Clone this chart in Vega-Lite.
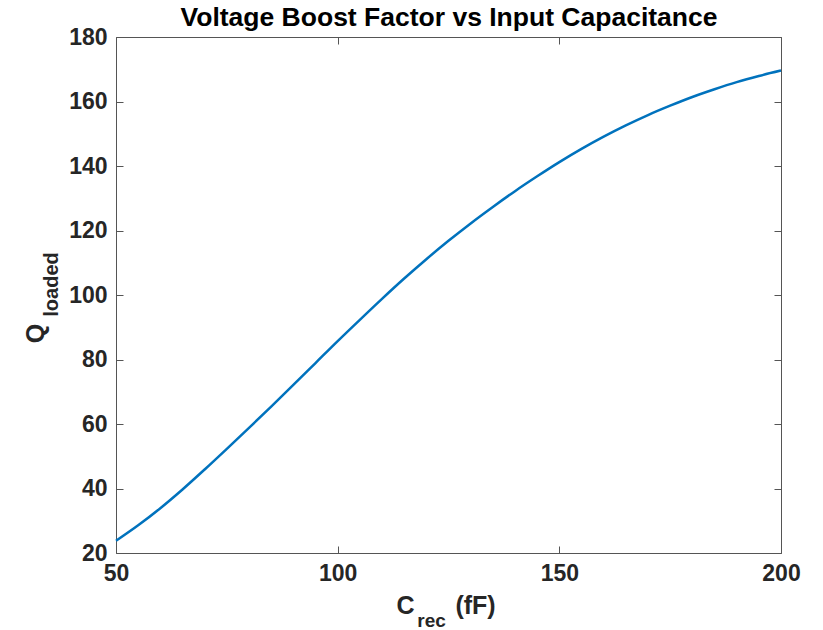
{
  "$schema": "https://vega.github.io/schema/vega-lite/v6.json",
  "width": 665,
  "height": 516,
  "autosize": {"type": "none"},
  "padding": {"left": 116, "top": 37, "right": 42, "bottom": 77},
  "background": "white",
  "config": {
    "view": {"stroke": "#555555", "strokeWidth": 1},
    "axis": {
      "labelFont": "Liberation Sans",
      "labelFontSize": 23,
      "labelFontWeight": "bold",
      "labelColor": "#262626",
      "labelFlush": false,
      "titleFont": "Liberation Sans",
      "titleFontWeight": "bold",
      "titleColor": "#262626",
      "grid": false,
      "domain": false,
      "tickColor": "#555555",
      "tickSize": -7,
      "tickWidth": 1,
      "labelPadding": 16
    }
  },
  "data": {
    "values": [
      {"c": 50, "q": 23.8},
      {"c": 55, "q": 28.6},
      {"c": 60, "q": 33.9},
      {"c": 65, "q": 39.7},
      {"c": 70, "q": 45.9},
      {"c": 75, "q": 52.3},
      {"c": 80, "q": 58.8},
      {"c": 85, "q": 65.4},
      {"c": 90, "q": 72.1},
      {"c": 95, "q": 78.9},
      {"c": 100, "q": 85.7},
      {"c": 105, "q": 92.3},
      {"c": 110, "q": 98.8},
      {"c": 115, "q": 105.1},
      {"c": 120, "q": 111.1},
      {"c": 125, "q": 116.8},
      {"c": 130, "q": 122.2},
      {"c": 135, "q": 127.3},
      {"c": 140, "q": 132.2},
      {"c": 145, "q": 136.8},
      {"c": 150, "q": 141.2},
      {"c": 155, "q": 145.3},
      {"c": 160, "q": 149.1},
      {"c": 165, "q": 152.6},
      {"c": 170, "q": 155.8},
      {"c": 175, "q": 158.7},
      {"c": 180, "q": 161.4},
      {"c": 185, "q": 163.8},
      {"c": 190, "q": 166.0},
      {"c": 195, "q": 167.9},
      {"c": 200, "q": 169.6}
    ]
  },
  "layer": [
    {
      "mark": {"type": "line", "color": "#0072BD", "strokeWidth": 2.5, "interpolate": "monotone"},
      "encoding": {
        "x": {
          "field": "c", "type": "quantitative",
          "scale": {"domain": [50, 200], "nice": false, "zero": false},
          "axis": {
            "orient": "bottom", "values": [50, 100, 150, 200],
            "title": "C", "titleFontSize": 25, "titleX": 289, "titleY": 60,
            "titleAlign": "center", "titleBaseline": "alphabetic"
          }
        },
        "y": {
          "field": "q", "type": "quantitative",
          "scale": {"domain": [20, 180], "nice": false, "zero": false},
          "axis": {
            "orient": "left", "values": [20, 40, 60, 80, 100, 120, 140, 160, 180],
            "title": "Q", "titleFontSize": 25, "titleAngle": -90, "titleX": -73, "titleY": 296,
            "titleAlign": "center", "titleBaseline": "alphabetic"
          }
        }
      }
    },
    {
      "mark": {"type": "line", "opacity": 0},
      "encoding": {
        "x": {
          "field": "c", "type": "quantitative",
          "scale": {"domain": [50, 200], "nice": false, "zero": false},
          "axis": {
            "orient": "top", "values": [50, 100, 150, 200], "labels": false,
            "title": "Voltage Boost Factor vs Input Capacitance",
            "titleFontSize": 26.5, "titleColor": "#000000", "titleX": 332.5, "titleY": -12,
            "titleAlign": "center", "titleBaseline": "alphabetic"
          }
        },
        "y": {
          "field": "q", "type": "quantitative",
          "scale": {"domain": [20, 180], "nice": false, "zero": false},
          "axis": {"orient": "right", "values": [20, 40, 60, 80, 100, 120, 140, 160, 180], "labels": false, "title": null}
        }
      }
    },
    {
      "mark": {"type": "line", "opacity": 0},
      "encoding": {
        "x": {
          "field": "c", "type": "quantitative",
          "scale": {"domain": [50, 200], "nice": false, "zero": false},
          "axis": {
            "orient": "bottom", "labels": false, "ticks": false,
            "title": "rec", "titleFontSize": 19, "titleX": 315, "titleY": 73,
            "titleAlign": "center", "titleBaseline": "alphabetic"
          }
        },
        "y": {
          "field": "q", "type": "quantitative",
          "scale": {"domain": [20, 180], "nice": false, "zero": false},
          "axis": {
            "orient": "left", "labels": false, "ticks": false,
            "title": "loaded", "titleFontSize": 20, "titleAngle": -90, "titleX": -59, "titleY": 247,
            "titleAlign": "center", "titleBaseline": "alphabetic"
          }
        }
      }
    },
    {
      "mark": {"type": "line", "opacity": 0},
      "encoding": {
        "x": {
          "field": "c", "type": "quantitative",
          "scale": {"domain": [50, 200], "nice": false, "zero": false},
          "axis": {
            "orient": "bottom", "labels": false, "ticks": false,
            "title": "(fF)", "titleFontSize": 25, "titleX": 359, "titleY": 60,
            "titleAlign": "center", "titleBaseline": "alphabetic"
          }
        },
        "y": {
          "field": "q", "type": "quantitative",
          "scale": {"domain": [20, 180], "nice": false, "zero": false},
          "axis": null
        }
      }
    }
  ],
  "resolve": {
    "scale": {"x": "independent", "y": "independent"},
    "axis": {"x": "independent", "y": "independent"}
  }
}
